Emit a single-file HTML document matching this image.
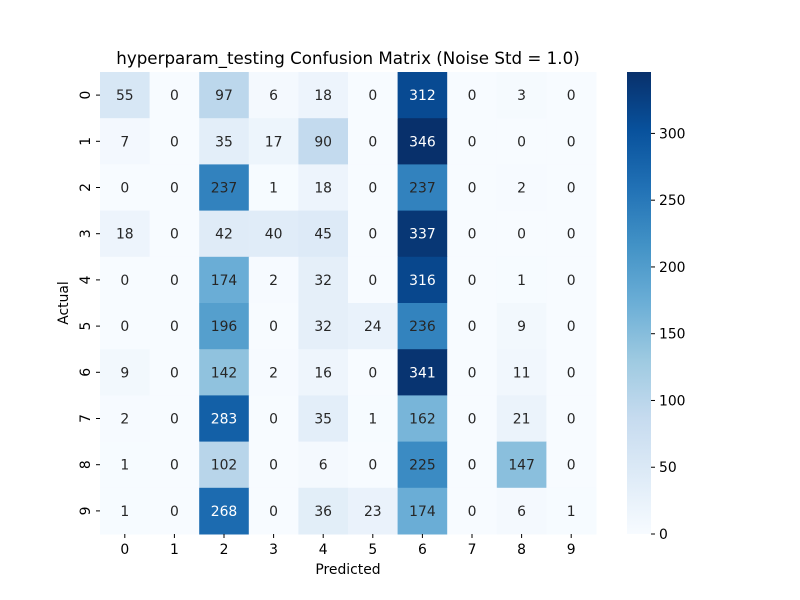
<!DOCTYPE html>
<html><head><meta charset="utf-8"><style>body{margin:0;background:#fff}svg{display:block;font-family:"DejaVu Sans","Liberation Sans",sans-serif}</style></head>
<body>
<svg id="chart" width="800" height="600" xmlns="http://www.w3.org/2000/svg">
<defs><linearGradient id="cbg" x1="0" y1="1" x2="0" y2="0"></linearGradient></defs>
<text x="348" y="64" font-size="16.7" text-anchor="middle" fill="#000">hyperparam_testing Confusion Matrix (Noise Std = 1.0)</text>
<text x="348" y="574" font-size="13.9" text-anchor="middle">Predicted</text>
<text x="0" y="0" font-size="13.9" text-anchor="middle" transform="translate(68,303) rotate(-90)">Actual</text>
<g id="cells"></g><g id="axes"></g><g id="cbar"></g>
</svg>
<script>
const classes=["0","1","2","3","4","5","6","7","8","9"];
const row0=[55,0,97,6,18,0,312,0,3,0];
const row1=[7,0,35,17,90,0,346,0,0,0];
const row2=[0,0,237,1,18,0,237,0,2,0];
const row3=[18,0,42,40,45,0,337,0,0,0];
const row4=[0,0,174,2,32,0,316,0,1,0];
const row5=[0,0,196,0,32,24,236,0,9,0];
const row6=[9,0,142,2,16,0,341,0,11,0];
const row7=[2,0,283,0,35,1,162,0,21,0];
const row8=[1,0,102,0,6,0,225,0,147,0];
const row9=[1,0,268,0,36,23,174,0,6,1];
const matrix=[row0,row1,row2,row3,row4,row5,row6,row7,row8,row9];
const cbTicks=[0,50,100,150,200,250,300];
const NS="http://www.w3.org/2000/svg";
const X0=100,X1=596,Y0=72,Y1=534;
const vmax=Math.max(...matrix.flat()),vmin=0;
const cw=(X1-X0)/classes.length,ch=(Y1-Y0)/classes.length;
const xs=i=>X0+i*cw, ys=i=>Y0+i*ch;
const stops=["#f7fbff","#deebf7","#c6dbef","#9ecae1","#6baed6","#4292c6","#2171b5","#08519c","#08306b"].map(h=>[1,3,5].map(k=>parseInt(h.substr(k,2),16)));
function color(v){let t=(v-vmin)/(vmax-vmin);t=Math.max(0,Math.min(1,t))*(stops.length-1);let i=Math.min(Math.floor(t),stops.length-2),f=t-i;const c=stops[i].map((a,k)=>Math.round(a+(stops[i+1][k]-a)*f));return c;}
function mk(tag,attrs,parent){const e=document.createElementNS(NS,tag);for(const k in attrs)e.setAttribute(k,attrs[k]);parent.appendChild(e);return e;}
const cells=document.getElementById('cells');
matrix.forEach((row,r)=>row.forEach((v,c)=>{
 const col=color(v);
 const rect=mk('rect',{x:xs(c),y:ys(r),width:cw+0.5,height:ch+0.5,fill:`rgb(${col})`},cells);
 
 
 const lum=(0.2126*col[0]+0.7152*col[1]+0.0722*col[2])/255;
 const t=mk('text',{x:xs(c)+cw/2,y:ys(r)+ch/2+5,'font-size':13.9,'text-anchor':'middle',fill:lum<0.408?'#fff':'#262626'},cells);
 t.textContent=v;
 
 
}));
const axes=document.getElementById('axes');
classes.forEach((l,i)=>{
 mk('line',{x1:xs(i)+cw/2,x2:xs(i)+cw/2,y1:Y1,y2:Y1+4,stroke:'#000'},axes);
 const t=mk('text',{x:xs(i)+cw/2,y:Y1+20,'font-size':13.9,'text-anchor':'middle'},axes);t.textContent=l;
 
 
 mk('line',{x1:X0-4,x2:X0,y1:ys(i)+ch/2,y2:ys(i)+ch/2,stroke:'#000'},axes);
 const u=mk('text',{x:0,y:0,'font-size':13.9,'text-anchor':'middle',transform:`translate(${X0-10},${ys(i)+ch/2}) rotate(-90)`},axes);u.textContent=l;
 
 
});
const grad=document.getElementById('cbg');
stops.forEach((s,i)=>mk('stop',{offset:i/(stops.length-1),'stop-color':`rgb(${s})`},grad));
const cb=document.getElementById('cbar');
const CX0=627,CX1=651;
const cbs=v=>Y1-(v-vmin)/(vmax-vmin)*(Y1-Y0);
const bar=mk('rect',{x:CX0,y:Y0,width:CX1-CX0,height:Y1-Y0,fill:'url(#cbg)'},cb);


cbTicks.forEach(v=>{
 mk('line',{x1:CX1,x2:CX1+4,y1:cbs(v),y2:cbs(v),stroke:'#000'},cb);
 const t=mk('text',{x:CX1+8,y:cbs(v)+5,'font-size':13.9},cb);t.textContent=v;
 
 
});
</script>
</body></html>
